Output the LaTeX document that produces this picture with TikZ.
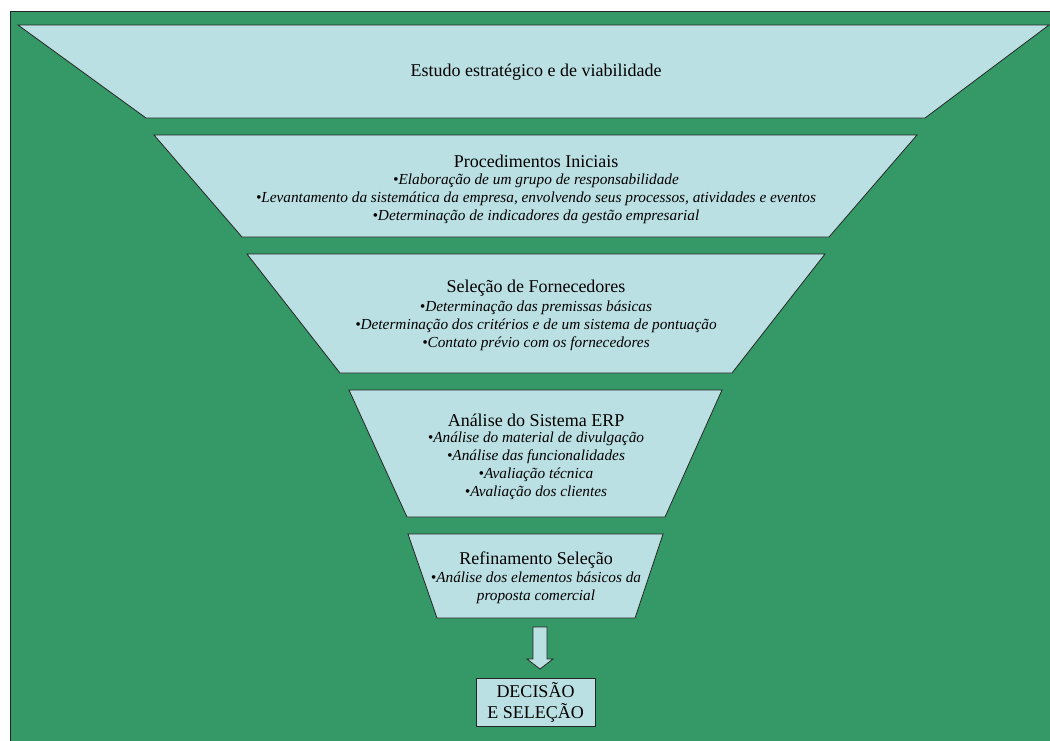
\documentclass[tikz,border=0pt]{standalone}
\usepackage{fontspec}
\setmainfont{Liberation Serif}
\definecolor{bggreen}{RGB}{52,152,103}
\definecolor{stagefill}{RGB}{187,224,227}
\tikzset{stage/.style={draw=black!85,fill=stagefill,line width=0.8pt},
         stage title/.style={font=\fontsize{18}{21}\selectfont,inner sep=0pt},
         stage items/.style={font=\fontsize{15.3}{18}\selectfont\itshape,align=center,inner sep=0pt},
         decision/.style={draw=black!85,fill=stagefill,line width=0.8pt,align=center,
                          minimum width=119pt,minimum height=48pt,inner sep=0pt,
                          font=\fontsize{18}{21}\selectfont}}

\begin{document}
\begin{tikzpicture}[x=1pt,y=-1pt]
    \useasboundingbox (0,0) rectangle (1050,740);
    \fill[bggreen,draw=black!85,line width=0.8pt] (10,11) rectangle (1054,744);

    % funnel stages
    \draw[stage] (18,25) -- (1049,25) -- (925,118) -- (146,118) -- cycle;
    \draw[stage] (154,135) -- (917,135) -- (829,237) -- (242,237) -- cycle;
    \draw[stage] (247,254) -- (825,254) -- (732,373) -- (340,373) -- cycle;
    \draw[stage] (349,390) -- (722,390) -- (665,517) -- (407,517) -- cycle;
    \draw[stage] (408,534) -- (663,534) -- (635,618) -- (437,618) -- cycle;

    \node[stage title] (estudo) at (536,72) {Estudo estratégico e de viabilidade};

    \node[stage title] (proc) at (536,161) {Procedimentos Iniciais};
    \node[stage items] (procitems) at (536,199)
        {•Elaboração de um grupo de responsabilidade\\
         •Levantamento da sistemática da empresa, envolvendo seus processos, atividades e eventos\\
         •Determinação de indicadores da gestão empresarial};

    \node[stage title] (forn) at (536,288) {Seleção de Fornecedores};
    \node[stage items] (fornitems) at (536,326)
        {•Determinação das premissas básicas\\
         •Determinação dos critérios e de um sistema de pontuação\\
         •Contato prévio com os fornecedores};

    \node[stage title] (erp) at (536,420) {Análise do Sistema ERP};
    \node[stage items] (erpitems) at (536,466)
        {•Análise do material de divulgação\\
         •Análise das funcionalidades\\
         •Avaliação técnica\\
         •Avaliação dos clientes};

    \node[stage title] (refin) at (536,560) {Refinamento Seleção};
    \node[stage items] (refinitems) at (536,588)
        {•Análise dos elementos básicos da\\
         proposta comercial};

    % arrow to the decision
    \draw[stage] (533,627) -- (547,627) -- (547,659) -- (553,659) -- (540,669)
        -- (527,659) -- (533,659) -- cycle;

    \node[decision] (dec) at (535.5,702) {DECISÃO\\E SELEÇÃO};
\end{tikzpicture}
\end{document}
